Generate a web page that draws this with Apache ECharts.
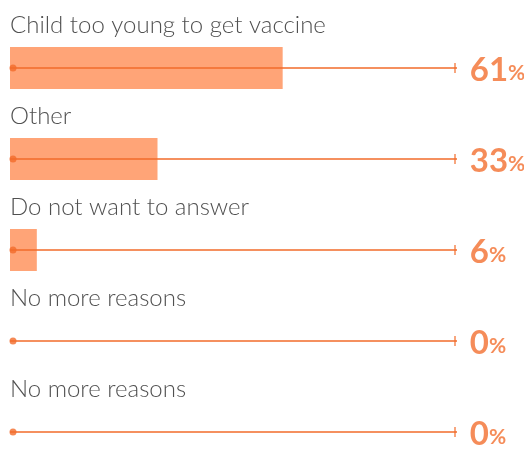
<!DOCTYPE html>
<html><head><meta charset="utf-8">
<script src="https://cdn.jsdelivr.net/npm/echarts@6/dist/echarts.min.js"></script>
<style>html,body{margin:0;padding:0;background:#fff}#c{width:524px;height:449px}</style>
</head><body><div id="c"></div>
<script>
const categories = ["Child too young to get vaccine", "Other", "Do not want to answer", "No more reasons", "No more reasons"];
const values = [61, 33, 6, 0, 0];
const trackMax = 100;

const chart = echarts.init(document.getElementById('c'));
const orange = '#F26B2A';
const yBase = { type: 'category', data: categories, inverse: true, show: false, boundaryGap: false };
chart.setOption({
  animation: false,
  grid: { left: 10, width: 447, top: 68, height: 364, containLabel: false },
  xAxis: { type: 'value', min: 0, max: trackMax, show: false },
  yAxis: [Object.assign({}, yBase), Object.assign({}, yBase)],
  series: [
    {
      type: 'bar', data: values, barWidth: 42, z: 1, yAxisIndex: 0,
      itemStyle: { color: '#FFA477' }, silent: true
    },
    {
      type: 'bar', data: categories.map(() => trackMax), barWidth: 1.5, z: 2, yAxisIndex: 1,
      itemStyle: { color: orange }, silent: true,
      label: {
        show: true, position: [0, -54],
        formatter: p => p.name,
        fontFamily: 'Lato', fontWeight: 300, fontSize: 24, color: '#505050'
      }
    },
    {
      type: 'scatter', data: values.map(() => 0), symbol: 'circle', symbolSize: 7, yAxisIndex: 1,
      symbolOffset: [3, 0], z: 3, itemStyle: { color: orange }, silent: true
    },
    {
      type: 'scatter', data: values.map(() => trackMax), symbol: 'rect', symbolSize: [1.5, 10], yAxisIndex: 1,
      symbolOffset: [-2, 0], z: 3, itemStyle: { color: orange }, silent: true,
      label: {
        show: true, position: 'right', distance: 14,
        formatter: p => '{n|' + values[p.dataIndex] + '}{p|%}',
        rich: {
          n: { fontFamily: 'Lato', fontWeight: 'bold', fontSize: 33, color: '#F36F30', padding: [5, 0, 0, 0] },
          p: { fontFamily: 'Lato', fontWeight: 'bold', fontSize: 21, color: '#F36F30', padding: [11, 0, 0, 0] }
        }
      }
    }
  ]
});
</script></body></html>
